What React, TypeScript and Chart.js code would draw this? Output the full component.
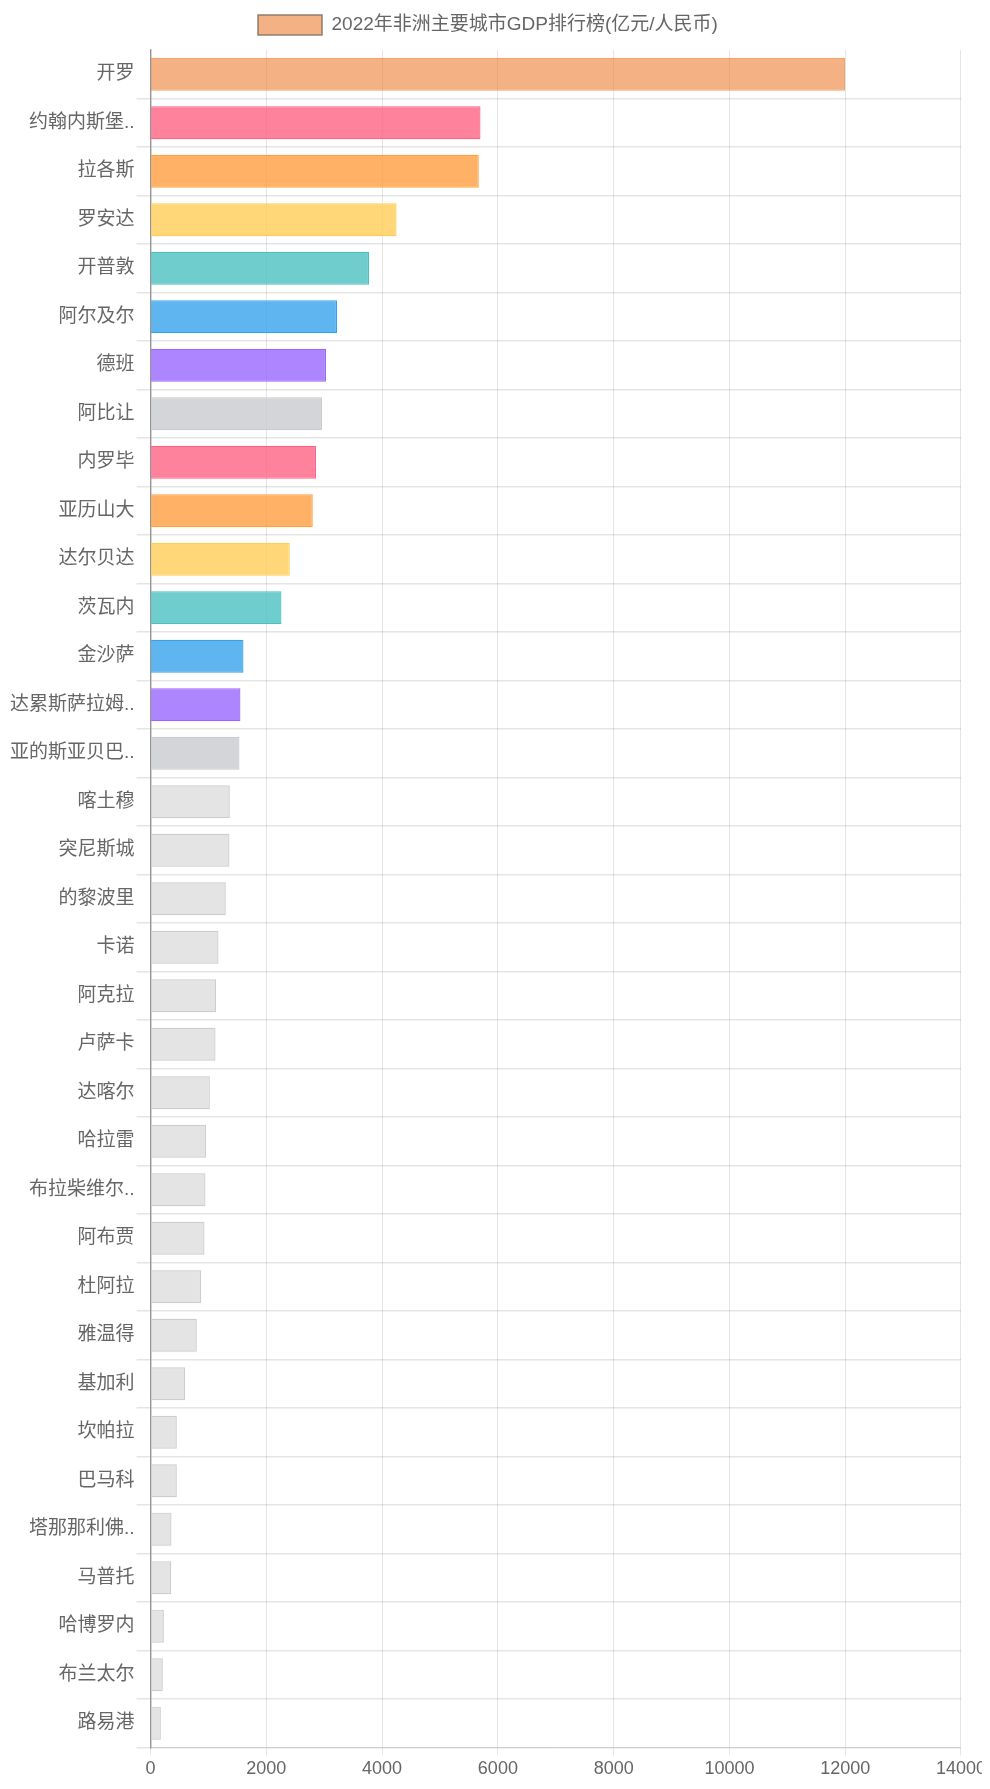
import { useEffect, useRef } from 'react';
import { Chart, registerables } from 'chart.js';

Chart.register(...registerables);

// 2022 GDP of major African cities (100 million RMB)
const cities = [
    '开罗', '约翰内斯堡', '拉各斯', '罗安达', '开普敦', '阿尔及尔', '德班', '阿比让', '内罗毕',
    '亚历山大', '达尔贝达', '茨瓦内', '金沙萨', '达累斯萨拉姆', '亚的斯亚贝巴', '喀土穆', '突尼斯城',
    '的黎波里', '卡诺', '阿克拉', '卢萨卡', '达喀尔', '哈拉雷', '布拉柴维尔', '阿布贾', '杜阿拉',
    '雅温得', '基加利', '坎帕拉', '巴马科', '塔那那利佛', '马普托', '哈博罗内', '布兰太尔', '路易港',
];

const gdp = [
    12000, 5700, 5670, 4250, 3775, 3222, 3032, 2963, 2860,
    2802, 2405, 2261, 1605, 1553, 1536, 1369, 1363,
    1300, 1174, 1133, 1122, 1024, 960, 949, 932, 874,
    799, 598, 454, 454, 362, 356, 230, 212, 178,
];

const xTicks = [0, 2000, 4000, 6000, 8000, 10000, 12000, 14000];

const datasetLabel = '2022年非洲主要城市GDP排行榜(亿元/人民币)    ';

const topFill = 'rgba(237,125,49,0.6)';
const topBorder = 'rgba(237,125,49,0.7)';
const paletteFill = [
    'rgba(255,99,132,0.8)', 'rgba(255,159,64,0.8)', 'rgba(255,205,86,0.8)', 'rgba(75,192,192,0.8)',
    'rgba(54,162,235,0.8)', 'rgba(153,102,255,0.8)', 'rgba(201,203,207,0.8)',
];
const paletteBorder = [
    'rgb(255,99,132)', 'rgb(255,159,64)', 'rgb(255,205,86)', 'rgb(75,192,192)',
    'rgb(54,162,235)', 'rgb(153,102,255)', 'rgb(201,203,207)',
];
const restFill = 'rgba(205,205,205,0.55)';
const restBorder = 'rgba(200,200,200,0.9)';

const fillFor = (i: number) => (i === 0 ? topFill : i <= 14 ? paletteFill[(i - 1) % 7] : restFill);
const borderFor = (i: number) => (i === 0 ? topBorder : i <= 14 ? paletteBorder[(i - 1) % 7] : restBorder);

const fontFamily = "'Liberation Sans', 'Noto Sans CJK SC', sans-serif";

const App = () => {
    const chartRef = useRef<HTMLCanvasElement | null>(null);

    useEffect(() => {
        if (!chartRef.current) return;

        const chart = new Chart(chartRef.current, {
            type: 'bar',
            data: {
                labels: cities,
                datasets: [
                    {
                        label: datasetLabel,
                        data: gdp,
                        backgroundColor: cities.map((_, i) => fillFor(i)),
                        borderColor: cities.map((_, i) => borderFor(i)),
                        borderWidth: 1.2,
                        categoryPercentage: 0.8,
                        barPercentage: 0.85,
                    },
                ],
            },
            options: {
                indexAxis: 'y',
                animation: false,
                responsive: true,
                maintainAspectRatio: false,
                font: { family: fontFamily },
                plugins: {
                    legend: {
                        position: 'top',
                        labels: {
                            boxWidth: 64,
                            boxHeight: 20,
                            padding: 7,
                            color: '#666',
                            font: { size: 19, family: fontFamily },
                            generateLabels: () => [
                                {
                                    text: datasetLabel,
                                    fillStyle: topFill,
                                    strokeStyle: 'rgba(130,115,100,0.9)',
                                    lineWidth: 1.5,
                                    hidden: false,
                                    datasetIndex: 0,
                                    fontColor: '#666',
                                },
                            ],
                        },
                    },
                    tooltip: { enabled: false },
                },
                scales: {
                    x: {
                        min: 0,
                        max: 14000,
                        afterBuildTicks: (axis) => {
                            axis.ticks = xTicks.map((v) => ({ value: v }));
                        },
                        grid: {
                            color: 'rgba(0,0,0,0.1)',
                            tickLength: 8,
                        },
                        border: { color: 'rgba(0,0,0,0.1)' },
                        ticks: {
                            color: '#666',
                            padding: 3,
                            font: { size: 18, family: fontFamily },
                            callback: (value) => String(value),
                        },
                    },
                    y: {
                        grid: {
                            color: (ctx) => (ctx.index === 0 ? 'rgba(0,0,0,0)' : 'rgba(0,0,0,0.1)'),
                            lineWidth: 1.5,
                            tickLength: 14,
                        },
                        border: { color: 'rgba(0,0,0,0.35)', width: 1.5 },
                        ticks: {
                            color: '#666',
                            padding: 2,
                            autoSkip: false,
                            font: { size: 19, family: fontFamily },
                            callback: function (value) {
                                const name = cities[value as number];
                                return name.length > 4 ? name + '..' : name;
                            },
                        },
                    },
                },
            },
            plugins: [
                {
                    id: 'legendGap',
                    beforeInit(c: any) {
                        const fit = c.legend.fit;
                        c.legend.fit = function () {
                            fit.bind(c.legend)();
                            this.height += 5;
                        };
                    },
                },
            ],
        });

        return () => {
            chart.destroy();
        };
    }, []);

    return (
        <div style={{ position: 'relative', width: 981, height: 1775, marginBottom: -2 }}>
            <canvas ref={chartRef} />
        </div>
    );
};

export default App;
